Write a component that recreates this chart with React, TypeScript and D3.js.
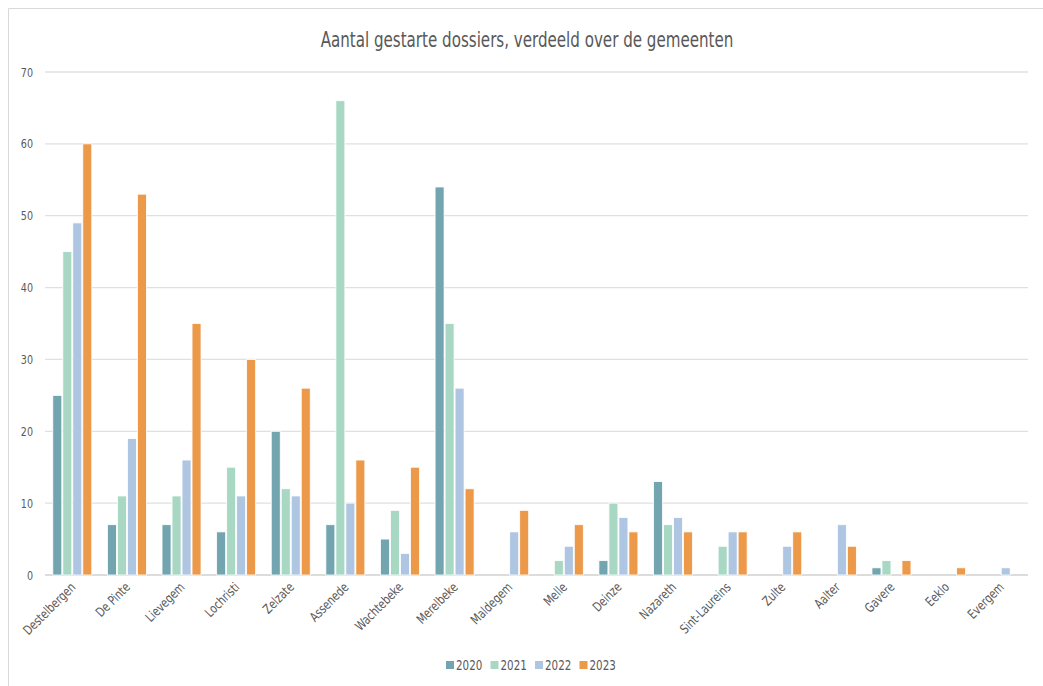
import React from "react";
import * as d3 from "d3";

const categories = ["Destelbergen","De Pinte","Lievegem","Lochristi","Zelzate","Assenede","Wachtebeke","Merelbeke","Maldegem","Melle","Deinze","Nazareth","Sint-Laureins","Zulte","Aalter","Gavere","Eeklo","Evergem"];
const years = ["2020","2021","2022","2023"];
const v2020 = [25,7,7,6,20,7,5,54,0,0,2,13,0,0,0,1,0,0];
const v2021 = [45,11,11,15,12,66,9,35,0,2,10,7,4,0,0,2,0,0];
const v2022 = [49,19,16,11,11,10,3,26,6,4,8,8,6,4,7,0,0,1];
const v2023 = [60,53,35,30,26,16,15,12,9,7,6,6,6,6,4,2,1,0];
const yTicks = [0,10,20,30,40,50,60,70];
const colors = ["#72a5b0","#a8d8c4","#aec6e2","#ec9a4a"];

const W = 1043, H = 686;
const FONT = "'DejaVu Sans Condensed','Roboto',sans-serif";
const SQ = 0.82;

export default function App() {
  const series = [v2020, v2021, v2022, v2023];
  const x0 = d3.scaleBand().domain(categories).range([45, 1028]).paddingInner(0).paddingOuter(0);
  const groupW = 40;
  const x1 = d3.scaleBand().domain(years).range([0, groupW]).padding(0);
  const y = d3.scaleLinear().domain([0, 70]).range([575, 72]);
  const legendX = d3.scaleBand().domain(years).range([446, 624]);

  return (
    <svg width={W} height={H} style={{ position: "absolute", left: 0, top: 0, background: "#fff" }} fontFamily={FONT}>
      <rect x={0} y={0} width={W} height={H} fill="#fff" />
      <line x1={8.5} x2={W} y1={8.5} y2={8.5} stroke="#d9d9d9" />
      <line x1={8.5} x2={8.5} y1={8.5} y2={H} stroke="#d9d9d9" />
      <text transform={`translate(527,47) scale(0.8,1)`} textAnchor="middle" fontSize={21} fill="#595959">
        Aantal gestarte dossiers, verdeeld over de gemeenten
      </text>
      {yTicks.map(t => (
        <g key={t}>
          <line x1={45} x2={1028} y1={y(t)} y2={y(t)} stroke={t === 0 ? "#d0d0d0" : "#e0e0e0"} strokeWidth={1.3} />
          <text transform={`translate(33,${y(t) + 4.5}) scale(${SQ},1)`} textAnchor="end" fontSize={13} fill="#595959">{t}</text>
        </g>
      ))}
      {categories.map((c, i) => {
        const cx = (x0(c) as number) + x0.bandwidth() / 2;
        const gx = cx - groupW / 2;
        return (
          <g key={c}>
            {series.map((s, k) => s[i] > 0 ? (
              <rect key={k} x={gx + (x1(years[k]) as number) + 0.5} y={y(s[i])} width={x1.bandwidth() - 1} height={y(0) - y(s[i])} fill={colors[k]} stroke="#fff" strokeWidth={0.8} />
            ) : null)}
            <text transform={`translate(${cx + 4},${588}) rotate(-45) scale(0.86,1)`} textAnchor="end" fontSize={13} fill="#595959">{c}</text>
          </g>
        );
      })}
      {years.map((yr, k) => {
        const lx = legendX(yr) as number;
        return (
          <g key={yr}>
            <rect x={lx} y={661} width={8} height={8} fill={colors[k]} />
            <text transform={`translate(${lx + 10},669.5) scale(${SQ},1)`} fontSize={14} fill="#595959">{yr}</text>
          </g>
        );
      })}
    </svg>
  );
}
